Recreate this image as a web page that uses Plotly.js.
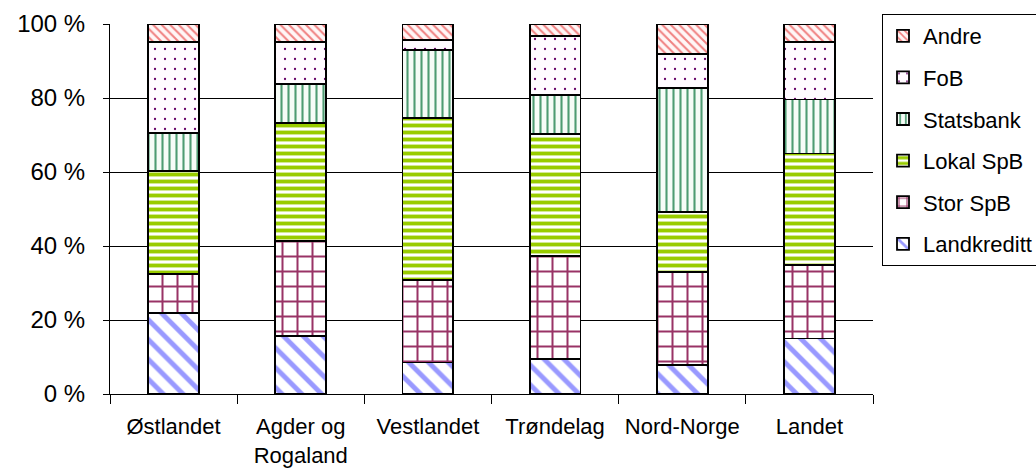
<!DOCTYPE html>
<html>
<head>
<meta charset="utf-8">
<script src="https://cdn.plot.ly/plotly-3.0.1.min.js"></script>
<style>
  html, body { margin: 0; padding: 0; background: #fff; }
  #chart { width: 1036px; height: 468px; }
</style>
</head>
<body>
<div id="chart"></div>
<script>
// Regions (x axis)
const regions = ['Østlandet', 'Agder og<br>Rogaland', 'Vestlandet', 'Trøndelag', 'Nord-Norge', 'Landet'];

// Market share per lender group, percent of total, bottom to top of each stack
const landkreditt = [21.8, 15.7, 8.5, 9.5, 7.8, 15.0];
const storSpB     = [10.6, 25.7, 22.3, 27.8, 25.1, 19.9];
const lokalSpB    = [27.9, 31.8, 43.7, 33.0, 16.2, 30.1];
const statsbank   = [10.2, 10.5, 18.5, 10.5, 33.7, 14.6];
const foB         = [24.7, 11.5, 2.7, 15.9, 9.0, 15.6];
const andre       = [4.8, 4.8, 4.3, 3.3, 8.2, 4.8];

// y axis ticks and their labels
const yTicks = [0, 20, 40, 60, 80, 100];
const yTickLabels = yTicks.map(v => v + ' %');

const outline = { color: '#000', width: 1.8 };

// rank puts the top segment first in the legend
function series(name, values, rank, bg, fg, shape, size, solidity) {
  return {
    type: 'bar',
    name: name,
    x: regions,
    y: values,
    legendgroup: name,
    legendrank: rank,
    marker: {
      color: bg,
      line: outline,
      pattern: { shape: shape, fgcolor: fg, bgcolor: bg, size: size, solidity: solidity, fillmode: 'replace' }
    },
    hoverinfo: 'skip'
  };
}

const data = [
  series('Landkreditt', landkreditt, 6, '#ffffff', '#9999ff', '\\', 14, 0.35),
  series('Stor SpB',    storSpB,     5, '#ffffff', '#993366', '+', 15, 0.25),
  series('Lokal SpB',   lokalSpB,    4, '#ffffff', '#99cc00', '-', 7, 0.55),
  series('Statsbank',   statsbank,   3, '#f6fcf7', '#4e9c72', '|', 7, 0.3),
  series('FoB',         foB,         2, '#fffbff', '#660066', '.', 10, 0.04),
  series('Andre',       andre,       1, '#fff6f6', '#f08080', '\\', 6, 0.33)
];

const layout = {
  width: 1036,
  height: 468,
  margin: { l: 110, r: 163, t: 24, b: 74, pad: 0, autoexpand: false },
  paper_bgcolor: '#ffffff',
  plot_bgcolor: '#ffffff',
  font: { family: '"Liberation Sans", Arial, sans-serif', color: '#000', size: 22 },
  barmode: 'stack',
  bargap: 0.6,
  showlegend: true,
  legend: {
    x: 1.0118, xanchor: 'left',
    y: 1.027, yanchor: 'top',
    traceorder: 'grouped',
    tracegroupgap: 10,
    maxheight: 460,
    bordercolor: '#000',
    borderwidth: 1,
    bgcolor: '#fff',
    font: { size: 22, color: '#000' },
    itemwidth: 30
  },
  xaxis: {
    type: 'category',
    showgrid: false,
    showline: true,
    linecolor: '#000',
    linewidth: 1,
    ticks: 'outside',
    tickson: 'boundaries',
    ticklen: 9,
    tickcolor: '#000',
    tickfont: { size: 22 },
    ticklabelstandoff: 13,
    fixedrange: true
  },
  yaxis: {
    range: [0, 100],
    tickvals: yTicks,
    ticktext: yTickLabels,
    showgrid: true,
    gridcolor: '#000',
    gridwidth: 1,
    showline: true,
    linecolor: '#000',
    linewidth: 1,
    ticks: 'outside',
    ticklen: 6,
    tickcolor: '#000',
    tickfont: { size: 24 },
    ticklabelstandoff: 13,
    zeroline: false,
    fixedrange: true
  }
};

Plotly.newPlot('chart', data, layout, { staticPlot: true, displayModeBar: false });
</script>
</body>
</html>
